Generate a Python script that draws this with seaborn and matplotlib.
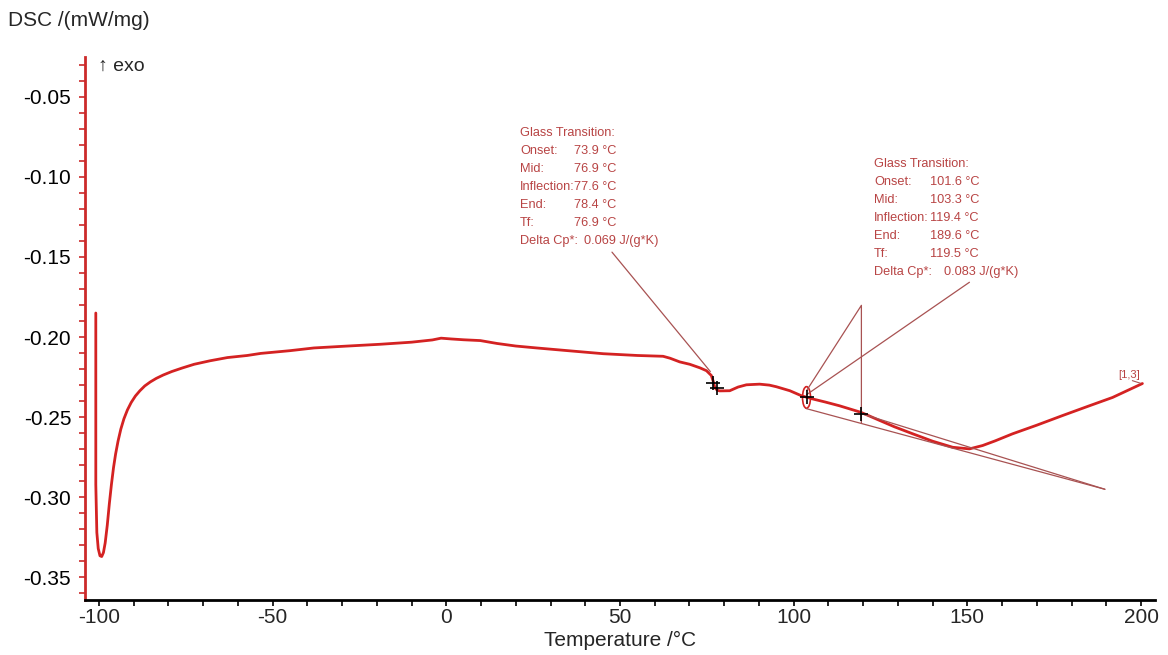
import numpy as np
import pandas as pd
import seaborn as sns
import matplotlib.pyplot as plt
from matplotlib.patches import Ellipse
from matplotlib.ticker import MultipleLocator

# DSC curve (temperature in °C, DSC in mW/mg)
temp = [-100.9, -100.9, -100.6, -100.2, -99.7, -99.2, -98.7, -98.2, -97.6, -97.0,
        -96.4, -95.8, -95.2, -94.5, -93.7, -92.8, -91.8, -90.7, -89.5, -88.2,
        -86.8, -85.2, -83.5, -81.5, -79.0, -76.0, -72.6, -68.0, -63.0, -57.3,
        -53.4, -45.0, -38.1, -30.0, -19.0, -10.0, -4.0, -1.5, 1.5, 5.0,
        9.8, 14.6, 20.0, 26.0, 35.0, 45.2, 55.0, 62.4, 64.4, 67.2,
        70.1, 73.0, 74.9, 76.3, 76.9, 77.3, 78.0, 78.7, 81.6, 84.0,
        86.4, 90.2, 93.0, 95.0, 98.9, 102.2, 105.6, 109.0, 113.2, 119.4,
        124.7, 129.0, 134.3, 140.0, 145.8, 150.6, 154.4, 158.0, 163.0, 170.0,
        177.4, 185.0, 191.8, 200.4]
dsc = [-0.185, -0.292, -0.322, -0.332, -0.3365, -0.3370, -0.3345, -0.3285, -0.3175, -0.3040,
       -0.2920, -0.2815, -0.2730, -0.2650, -0.2575, -0.2510, -0.2455, -0.2408, -0.2368, -0.2335,
       -0.2305, -0.2280, -0.2258, -0.2237, -0.2215, -0.2193, -0.2170, -0.2148, -0.2128, -0.2115,
       -0.2102, -0.2085, -0.2068, -0.2058, -0.2045, -0.2032, -0.2018, -0.2007, -0.2012, -0.2017,
       -0.2022, -0.2040, -0.2056, -0.2068, -0.2085, -0.2104, -0.2115, -0.2120, -0.2132, -0.2155,
       -0.2170, -0.2192, -0.2210, -0.2240, -0.2280, -0.2315, -0.2332, -0.2336, -0.2335, -0.2312,
       -0.2298, -0.2294, -0.2300, -0.2310, -0.2335, -0.2366, -0.2387, -0.2405, -0.2429, -0.2470,
       -0.2520, -0.2560, -0.2604, -0.2650, -0.2688, -0.2698, -0.2677, -0.2648, -0.2604, -0.2550,
       -0.2490, -0.2430, -0.2377, -0.2290]

# glass transition evaluations
tg_labels = ["Glass Transition:", "Onset:", "Mid:", "Inflection:", "End:", "Tf:", "Delta Cp*:"]
tg1_values = ["", "73.9 °C", "76.9 °C", "77.6 °C", "78.4 °C", "76.9 °C", "0.069 J/(g*K)"]
tg2_values = ["", "101.6 °C", "103.3 °C", "119.4 °C", "189.6 °C", "119.5 °C", "0.083 J/(g*K)"]

# marker points of the evaluations
tg1_marks_x = [76.7, 77.9]
tg1_marks_y = [-0.2286, -0.2317]
tg2_mid = (103.7, -0.2377)
tg2_infl = (119.5, -0.2478)
tg2_apex = (119.5, -0.1802)
tg2_end = (189.6, -0.2950)

sns.set_style("white")
plt.rcParams['font.family'] = ['Liberation Sans', 'DejaVu Sans']

fig = plt.figure(figsize=(11.68, 6.55), dpi=100)
ax = fig.add_axes([0.0728, 0.084, 0.916, 0.829])

curve_red = "#d42222"
note_red = "#b84444"
line_red = "#a85252"

df = pd.DataFrame({"Temperature": temp, "DSC": dsc})
sns.lineplot(data=df, x="Temperature", y="DSC", sort=False, estimator=None,
             color=curve_red, linewidth=2.0, ax=ax)

# evaluation construction lines
ax.plot([47.7, 76.0], [-0.147, -0.2215], color=line_red, lw=0.9)
ax.plot(tg1_marks_x, tg1_marks_y, linestyle="none", marker="+", color="black",
        markersize=10, markeredgewidth=1.2)

ax.plot([tg2_mid[0], tg2_apex[0], tg2_apex[0]], [-0.2335, tg2_apex[1], -0.2535],
        color=line_red, lw=0.9)
ax.plot([tg2_mid[0], 150.6], [-0.2360, -0.1658], color=line_red, lw=0.9)
ax.plot([tg2_mid[0], tg2_end[0]], [-0.2447, tg2_end[1]], color=line_red, lw=0.9)
ax.plot([tg2_infl[0], tg2_end[0]], [tg2_infl[1], tg2_end[1]], color=line_red, lw=0.9)
ax.add_patch(Ellipse(tg2_mid, 2.3, 0.0135, fill=False, edgecolor=curve_red, lw=1.2))
ax.plot([tg2_mid[0], tg2_infl[0]], [tg2_mid[1], tg2_infl[1]], linestyle="none",
        marker="+", color="black", markersize=10, markeredgewidth=1.2)

# segment label
ax.text(196.5, -0.2235, "[1,3]", color=note_red, fontsize=8, ha="center", va="center")
ax.plot([197.5, 199.8], [-0.2272, -0.2288], color=line_red, lw=0.8)

# annotation blocks (figure pixel positions)
W, H = 1168, 655
def note_block(x_lab, x_val, x_cp, y_top, values):
    for i, (lab, val) in enumerate(zip(tg_labels, values)):
        y = 1 - (y_top + i * 18) / H
        fig.text(x_lab / W, y, lab, color=note_red, fontsize=9.2, va="center")
        xv = x_val if i < 6 else x_cp
        fig.text(xv / W, y, val, color=note_red, fontsize=9.2, va="center")

note_block(520, 574, 584, 133, tg1_values)
note_block(874, 930, 944, 164, tg2_values)

# axes styling
ax.set_xlim(-104, 204)
ax.set_ylim(-0.3641, -0.0252)
ax.xaxis.set_minor_locator(MultipleLocator(10))
ax.yaxis.set_minor_locator(MultipleLocator(0.01))
ax.set_yticks([-0.35, -0.30, -0.25, -0.20, -0.15, -0.10, -0.05])
ax.set_yticklabels(["-0.35", "-0.30", "-0.25", "-0.20", "-0.15", "-0.10", "-0.05"])
ax.set_xticks([-100, -50, 0, 50, 100, 150, 200])
ax.set_xticklabels(["-100", "-50", "0", "50", "100", "150", "200"])

for side in ["top", "right"]:
    ax.spines[side].set_visible(False)
ax.spines["left"].set_color("#cc2a2a")
ax.spines["left"].set_linewidth(2)
ax.spines["bottom"].set_color("black")
ax.spines["bottom"].set_linewidth(2)

ax.tick_params(axis="y", which="both", direction="out", length=4, width=1.2,
               color="#cc2a2a", labelsize=15, labelcolor="black", left=True, pad=6)
ax.tick_params(axis="x", which="both", direction="out", length=4, width=1.2,
               color="black", labelsize=15, bottom=True, pad=2)

ax.set_xlabel("")
ax.set_ylabel("")
fig.text(620 / W, 1 - 640 / H, "Temperature /°C", fontsize=15, ha="center", va="center")
fig.text(8 / W, 1 - 20 / H, "DSC /(mW/mg)", fontsize=15, ha="left", va="center")
fig.text(98 / W, 1 - 66 / H, "↑ exo", fontsize=14, ha="left", va="center")

fig.savefig("out.png", dpi=100)
